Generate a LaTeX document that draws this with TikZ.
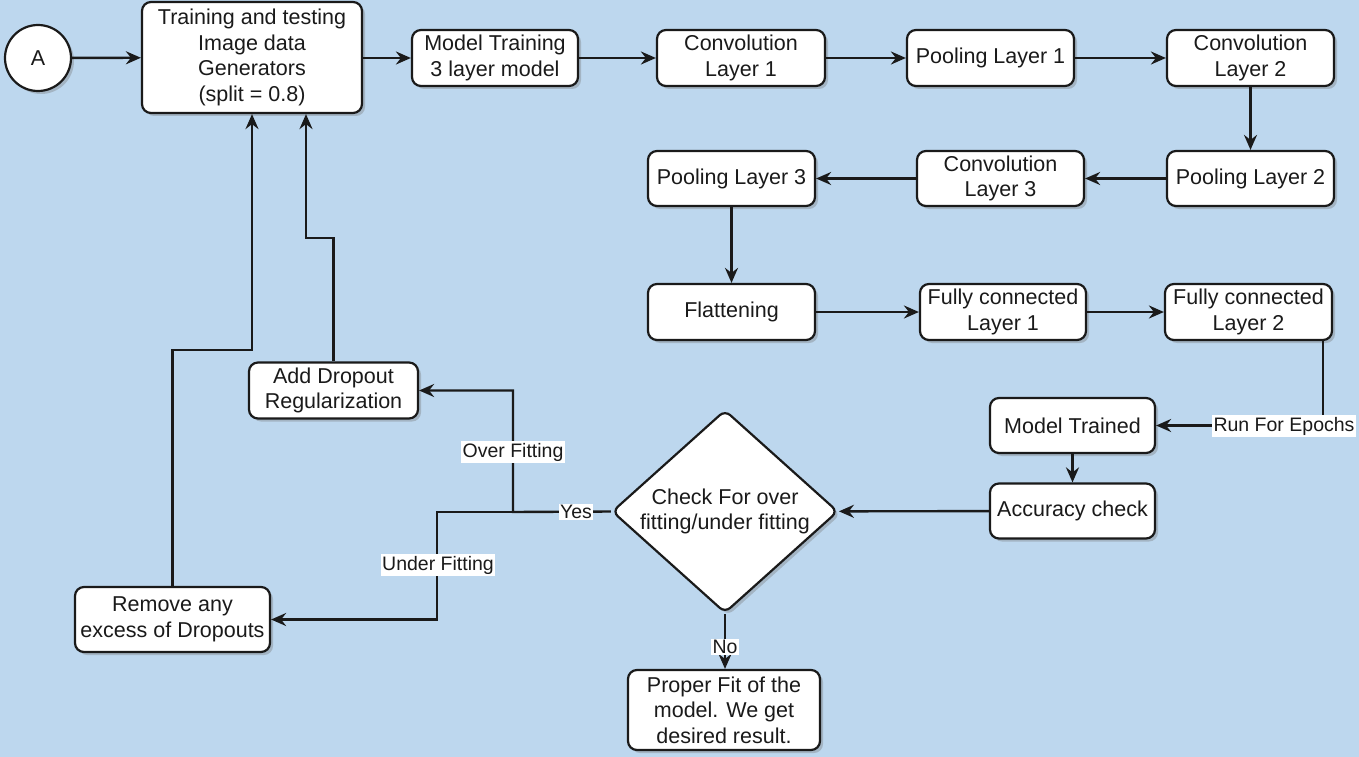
\documentclass[tikz,border=0pt]{standalone}
\usepackage{fontspec}
\setmainfont{Liberation Sans}
\usetikzlibrary{arrows.meta,shadows,shapes.geometric}
\definecolor{bg}{HTML}{BDD7EE}
\definecolor{ink}{HTML}{1A1A1A}
\begin{document}
\begin{tikzpicture}[x=1pt,y=-1pt,
  font=\fontsize{21.5}{25.5}\selectfont,
  myshadow/.style={drop shadow={shadow xshift=3pt,shadow yshift=-3pt,opacity=0.35,fill=black!55}},
  box/.style={draw=ink, line width=2.2pt, rounded corners=9pt, fill=white, align=center,
              inner sep=2pt, text=ink, myshadow},
  arr/.style={draw=ink, line width=2.4pt, -{Stealth[length=15pt,width=13pt,inset=5pt]}},
  lbl/.style={fill=white, inner sep=1.5pt, text=ink, font=\fontsize{19.5}{22}\selectfont}]
\fill[bg] (0,0) rectangle (1359,757);
\useasboundingbox (0,0) rectangle (1359,757);

% nodes
\node[draw=ink, line width=2.2pt, circle, fill=white, minimum size=66pt, inner sep=0pt, text=ink, myshadow] (a) at (38,58) {A};
\node[box, minimum width=220pt, minimum height=111pt] (train) at (252,57.5) {Training and testing\\Image data\\Generators\\(split = 0.8)};
\node[box, minimum width=166pt, minimum height=56pt] (mt) at (495,58) {Model Training\\3 layer model};
\node[box, minimum width=168pt, minimum height=56pt] (c1) at (741,58) {Convolution\\Layer 1};
\node[box, minimum width=167pt, minimum height=56pt] (p1) at (990.5,58) {Pooling Layer 1};
\node[box, minimum width=167pt, minimum height=56pt] (c2) at (1250.5,58) {Convolution\\Layer 2};
\node[box, minimum width=167pt, minimum height=55pt] (p2) at (1250.5,178.5) {Pooling Layer 2};
\node[box, minimum width=167pt, minimum height=55pt] (c3) at (1000.5,178.5) {Convolution\\Layer 3};
\node[box, minimum width=167pt, minimum height=55pt] (p3) at (731.5,178.5) {Pooling Layer 3};
\node[box, minimum width=167pt, minimum height=56pt] (fl) at (731.5,312) {Flattening};
\node[box, minimum width=166pt, minimum height=56pt] (f1) at (1003,312) {Fully connected\\Layer 1};
\node[box, minimum width=167pt, minimum height=56pt] (f2) at (1248.5,312) {Fully connected\\Layer 2};
\node[box, minimum width=165pt, minimum height=55pt] (mtr) at (1072.5,425.5) {Model Trained};
\node[box, minimum width=165pt, minimum height=55pt] (acc) at (1072.5,511) {Accuracy check};
\node[box, diamond, rounded corners=7pt, aspect=1.11, minimum width=226pt, minimum height=203pt, inner sep=0pt] (dia) at (725,511.5) {Check For over\\fitting/under fitting};
\node[box, minimum width=192pt, minimum height=80pt] (pf) at (724,710) {Proper Fit of the\\model. We get\\desired result.};
\node[box, minimum width=169pt, minimum height=56pt] (drop) at (333.5,390.5) {Add Dropout\\Regularization};
\node[box, minimum width=195pt, minimum height=65pt] (rem) at (172.5,619.5) {Remove any\\excess of Dropouts};

\coordinate (j1) at (513,512);
\coordinate (j2) at (437,512);

% connectors
\draw[arr] (a) -- (train);
\draw[arr] (train.east |- mt.west) -- (mt.west);
\draw[arr] (mt) -- (c1);
\draw[arr] (c1) -- (p1);
\draw[arr] (p1) -- (c2);
\draw[arr] (c2) -- (p2);
\draw[arr] (p2) -- (c3);
\draw[arr] (c3) -- (p3);
\draw[arr] (p3) -- (fl);
\draw[arr] (fl) -- (f1);
\draw[arr] (f1) -- (f2);
\draw[arr] ([xshift=-10pt]f2.south east) |- (mtr.east);
\draw[arr] (mtr) -- (acc);
\draw[arr] (acc) -- (dia);
\draw[arr] (dia.west) -- (j1) |- (drop.east);
\draw[arr] (j1) -- (j2) |- (rem.east);
\draw[arr] (dia.south) -- (dia.south |- pf.north);
\draw[arr] (drop.north) -- (drop.north |- 0,238) -| ([xshift=54pt]train.south);
\draw[arr] (rem.north) -- (rem.north |- 0,350) -| (train.south);

% labels
\node[lbl] (l1) at (1284,426) {Run For Epochs};
\node[lbl] (l2) at (513,452) {Over Fitting};
\node[lbl] (l3) at (438,565) {Under Fitting};
\node[lbl] (l4) at (576,512) {Yes};
\node[lbl] (l5) at (725,647) {No};
\end{tikzpicture}
\end{document}
